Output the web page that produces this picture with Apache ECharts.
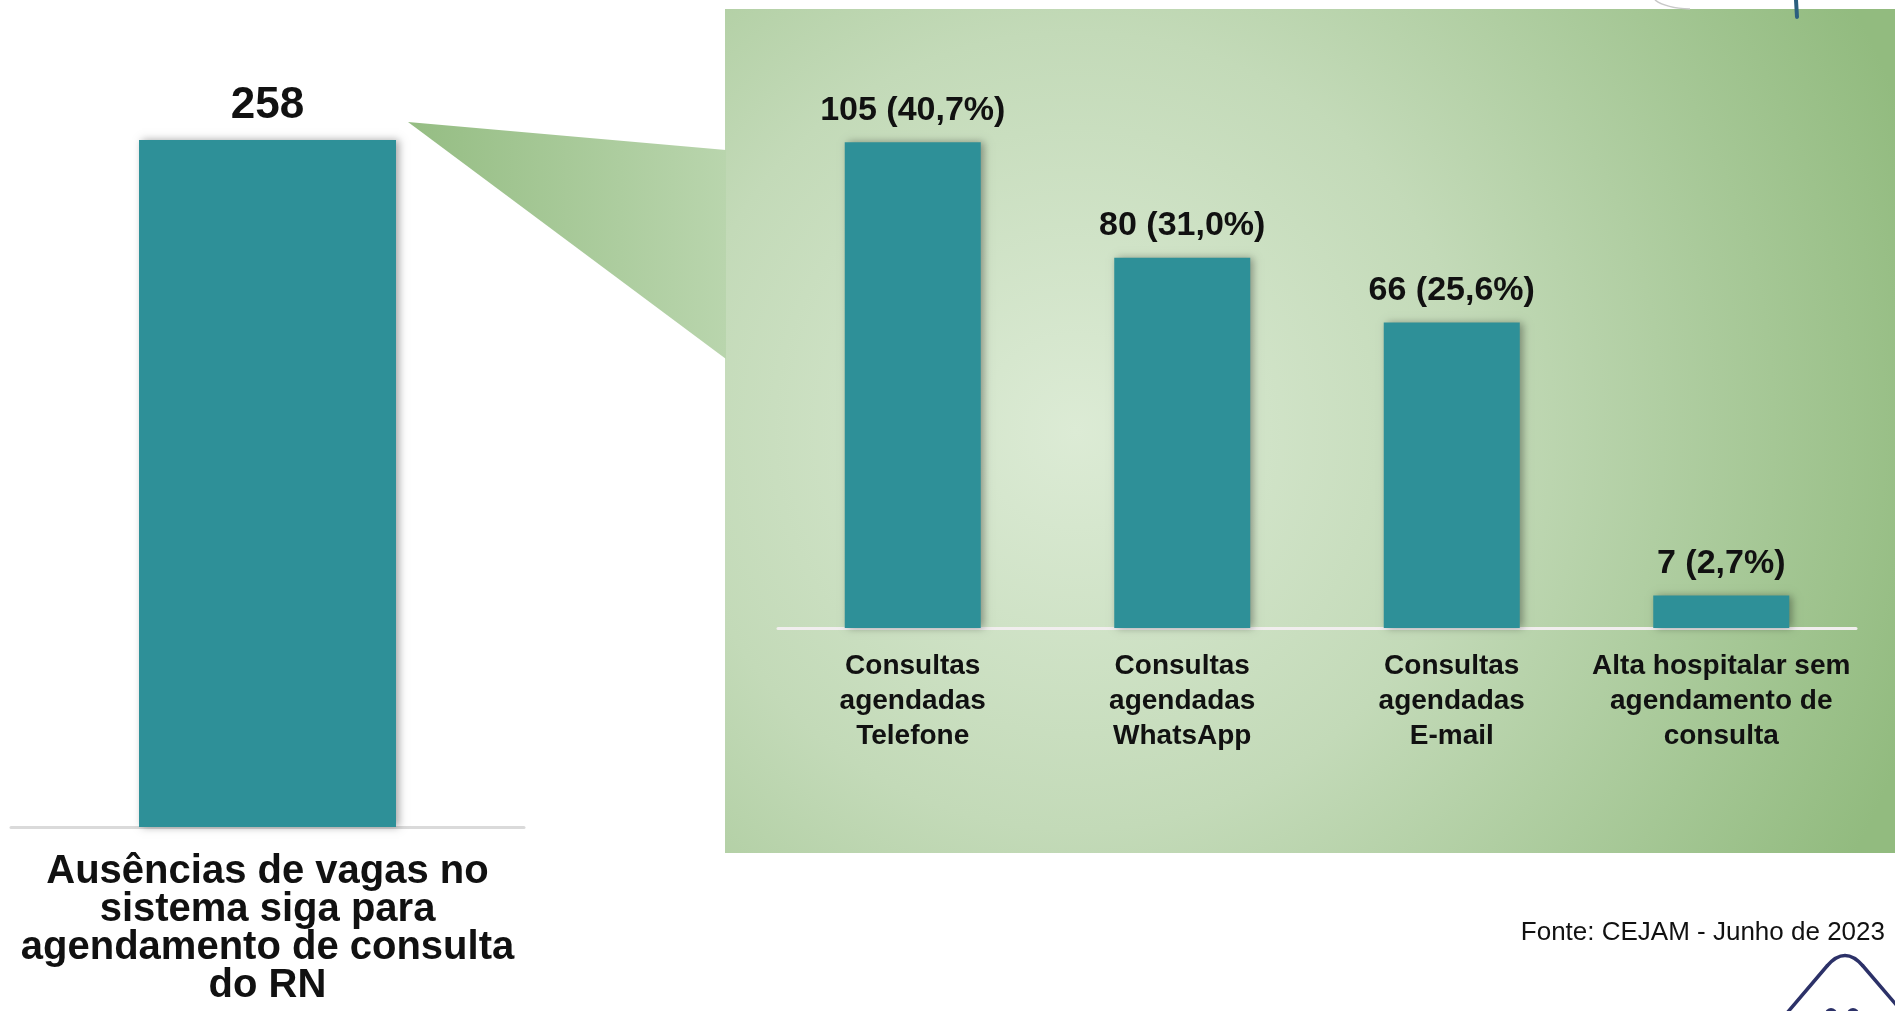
<!DOCTYPE html>
<html>
<head>
<meta charset="utf-8">
<title>Ausências de vagas - CEJAM</title>
<script src="https://cdn.jsdelivr.net/npm/echarts@6/dist/echarts.min.js"></script>
<style>
  html, body { margin: 0; padding: 0; background: #fff; }
  #main { width: 1895px; height: 1011px; }
</style>
</head>
<body>
<div id="main"></div>
<script>
// dados
var leftCategory = ['Ausências de vagas no\nsistema siga para\nagendamento de consulta\ndo RN'];
var leftValues = [258];

var categories = [
  'Consultas\nagendadas\nTelefone',
  'Consultas\nagendadas\nWhatsApp',
  'Consultas\nagendadas\nE-mail',
  'Alta hospitalar sem\nagendamento de\nconsulta'
];
var values = [105, 80, 66, 7];
var percents = ['40,7%', '31,0%', '25,6%', '2,7%'];

var fonte = 'Fonte: CEJAM - Junho de 2023';

var FONT = "'Liberation Sans', Arial, sans-serif";
var TEAL = '#2e9098';
var NAVY = '#2c3168';

var barStyle = {
  color: TEAL,
  shadowColor: 'rgba(0,0,0,0.35)',
  shadowBlur: 8,
  shadowOffsetX: 3
};

var myChart = echarts.init(document.getElementById('main'));

myChart.setOption({
  animation: false,
  backgroundColor: '#ffffff',
  graphic: [
    // painel verde (zoom)
    {
      type: 'rect',
      z: 0,
      shape: { x: 725, y: 9, width: 1170, height: 844 },
      style: {
        fill: {
          type: 'radial', x: 0.3, y: 0.5, r: 1.05,
          colorStops: [
            { offset: 0, color: '#dcebd5' },
            { offset: 0.45, color: '#c3dab8' },
            { offset: 1, color: '#92bb7f' }
          ]
        }
      }
    },
    // triângulo de ligação
    {
      type: 'polygon',
      z: 0,
      shape: { points: [[408, 122], [726, 150], [726, 359]] },
      style: {
        fill: {
          type: 'linear', x: 0, y: 0, x2: 1, y2: 0,
          colorStops: [
            { offset: 0, color: '#95bd83' },
            { offset: 1, color: '#b9d5ad' }
          ]
        }
      }
    },
    // fonte
    {
      type: 'text',
      z: 5,
      x: 1885, y: 933,
      style: {
        text: fonte,
        fill: '#111',
        font: '26px ' + FONT,
        textAlign: 'right',
        textVerticalAlign: 'middle'
      }
    },
    // pedaço de logo no topo
    {
      type: 'line', z: 5,
      shape: { x1: 1796, y1: 0, x2: 1797, y2: 17 },
      style: { stroke: '#2b5f7f', lineWidth: 4, lineCap: 'round' }
    },
    {
      type: 'bezierCurve', z: 5,
      shape: { x1: 1655, y1: 0, cpx1: 1665, cpy1: 8, x2: 1690, y2: 9 },
      style: { stroke: '#c8c8c8', lineWidth: 1.5, fill: null }
    },
    // logo no canto inferior
    {
      type: 'line', z: 5,
      shape: { x1: 1787, y1: 1013, x2: 1827, y2: 966 },
      style: { stroke: NAVY, lineWidth: 3.5, lineCap: 'round' }
    },
    {
      type: 'bezierCurve', z: 5,
      shape: { x1: 1827, y1: 966, cpx1: 1845, cpy1: 945, x2: 1863, y2: 966 },
      style: { stroke: NAVY, lineWidth: 3.5, fill: null }
    },
    {
      type: 'line', z: 5,
      shape: { x1: 1863, y1: 966, x2: 1899, y2: 1008 },
      style: { stroke: NAVY, lineWidth: 3.5, lineCap: 'round' }
    },
    { type: 'circle', z: 5, shape: { cx: 1831, cy: 1014, r: 6 }, style: { fill: NAVY } },
    { type: 'circle', z: 5, shape: { cx: 1853, cy: 1014, r: 6 }, style: { fill: NAVY } }
  ],
  grid: [
    { left: 11, width: 513, top: 140, bottom: 184 },
    { left: 778, width: 1078, top: 119, bottom: 383 }
  ],
  xAxis: [
    {
      type: 'category',
      gridIndex: 0,
      data: leftCategory,
      axisLine: { lineStyle: { color: '#dadada', width: 3 } },
      axisTick: { show: false },
      axisLabel: {
        interval: 0,
        margin: 26,
        color: '#111',
        fontFamily: FONT,
        fontWeight: 'bold',
        fontSize: 40,
        lineHeight: 38,
        align: 'center'
      }
    },
    {
      type: 'category',
      gridIndex: 1,
      data: categories,
      axisLine: { lineStyle: { color: '#f1eeee', width: 3 } },
      axisTick: { show: false },
      axisLabel: {
        interval: 0,
        margin: 21,
        color: '#111',
        fontFamily: FONT,
        fontWeight: 'bold',
        fontSize: 28,
        lineHeight: 35,
        align: 'center'
      }
    }
  ],
  yAxis: [
    { type: 'value', gridIndex: 0, min: 0, max: 258, show: false },
    { type: 'value', gridIndex: 1, min: 0, max: 110, show: false }
  ],
  series: [
    {
      name: 'Ausências',
      type: 'bar',
      xAxisIndex: 0,
      yAxisIndex: 0,
      data: leftValues,
      barWidth: 257,
      itemStyle: barStyle,
      label: {
        show: true,
        position: 'top',
        distance: 12,
        color: '#111',
        fontFamily: FONT,
        fontWeight: 'bold',
        fontSize: 44
      }
    },
    {
      name: 'Detalhe',
      type: 'bar',
      xAxisIndex: 1,
      yAxisIndex: 1,
      data: values,
      barWidth: 136,
      itemStyle: barStyle,
      label: {
        show: true,
        position: 'top',
        distance: 15,
        color: '#111',
        fontFamily: FONT,
        fontWeight: 'bold',
        fontSize: 34,
        formatter: function (p) {
          return p.value + ' (' + percents[p.dataIndex] + ')';
        }
      }
    }
  ]
});
</script>
</body>
</html>
